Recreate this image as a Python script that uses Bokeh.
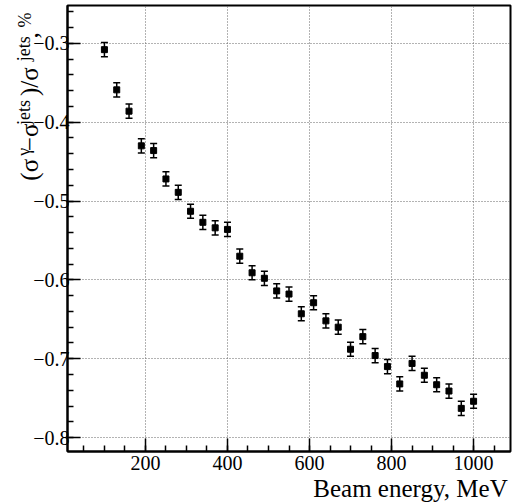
from bokeh.plotting import figure
from bokeh.models import (ColumnDataSource, Range1d, FixedTicker, Whisker, TeeHead,
                          LinearAxis)
from bokeh.embed import file_html
from bokeh.resources import INLINE

# ---------------- data ----------------
energy = [100, 130, 160, 190, 220, 250, 280, 310, 340, 370, 400, 430, 460, 490, 520,
          550, 580, 610, 640, 670, 700, 730, 760, 790, 820, 850, 880, 910, 940, 970, 1000]
ratio = [-0.308, -0.359, -0.386, -0.430, -0.436, -0.472, -0.489, -0.513, -0.527, -0.534,
         -0.536, -0.570, -0.591, -0.598, -0.614, -0.618, -0.643, -0.629, -0.652, -0.660,
         -0.688, -0.672, -0.696, -0.710, -0.732, -0.706, -0.721, -0.733, -0.741, -0.763,
         -0.754]
ratio_err = [0.009] * len(energy)

x_ticks = [200, 400, 600, 800, 1000]
x_tick_labels = ["200", "400", "600", "800", "1000"]
y_ticks = [-0.8, -0.7, -0.6, -0.5, -0.4, -0.3]
y_tick_labels = ["\u22120.8", "\u22120.7", "\u22120.6", "\u22120.5", "\u22120.4", "\u22120.3"]

x_title = "Beam energy, MeV"
# y title pieces (read bottom to top)
y_title_main = ["(\u03c3", "\u2212\u03c3", ")/\u03c3", ","]
y_title_sup = ["\u03b3", "jets", "jets", "%"]

# ---------------- layout ----------------
X_MIN, X_MAX = 10, 1090
Y_MIN, Y_MAX = -0.8177, -0.2520
FONT = "Liberation Serif"

p = figure(width=513, height=504, output_backend="svg", toolbar_location=None,
           x_range=Range1d(X_MIN, X_MAX), y_range=Range1d(Y_MIN, Y_MAX),
           min_border_left=67, min_border_right=3, min_border_top=5, min_border_bottom=51)
p.background_fill_color = "white"
p.border_fill_color = "white"
p.outline_line_color = "black"
p.outline_line_width = 2

# axes
p.xaxis.ticker = FixedTicker(ticks=x_ticks, minor_ticks=[50 * i for i in range(1, 22)])
p.yaxis.ticker = FixedTicker(ticks=y_ticks,
                             minor_ticks=[round(-0.8 + 0.02 * i, 2) for i in range(0, 28)])
p.xaxis.major_label_overrides = {t: s for t, s in zip(x_ticks, x_tick_labels)}
p.yaxis.major_label_overrides = {t: s for t, s in zip(y_ticks, y_tick_labels)}
for ax in (p.xaxis, p.yaxis):
    ax.axis_line_color = "black"
    ax.axis_line_width = 2
    ax.major_tick_in = 13
    ax.major_tick_out = 0
    ax.minor_tick_in = 6
    ax.minor_tick_out = 0
    ax.major_tick_line_color = "black"
    ax.minor_tick_line_color = "black"
    ax.major_tick_line_width = 1.5
    ax.minor_tick_line_width = 1.5
    ax.major_label_text_font = FONT
    ax.major_label_text_font_size = "20px"
    ax.major_label_text_color = "black"
p.xaxis.major_label_standoff = 4
p.yaxis.major_label_standoff = -2

# grid
for g in (p.xgrid, p.ygrid):
    g.grid_line_color = "#666666"
    g.grid_line_dash = "1 2"
    g.grid_line_width = 1
p.xgrid.ticker = p.xaxis.ticker
p.ygrid.ticker = p.yaxis.ticker

# data
src = ColumnDataSource(dict(
    x=energy, y=ratio,
    upper=[v + e for v, e in zip(ratio, ratio_err)],
    lower=[v - e for v, e in zip(ratio, ratio_err)],
))
w = Whisker(source=src, base="x", upper="upper", lower="lower", dimension="height",
            line_color="black", line_width=1.5,
            upper_head=TeeHead(size=7, line_width=1.5, line_color="black"),
            lower_head=TeeHead(size=7, line_width=1.5, line_color="black"))
p.add_layout(w)
p.scatter("x", "y", source=src, marker="square", size=6,
          fill_color="black", line_color="black")

# axis titles: extra axes without lines/ticks whose labels carry the titles
def ref_y(py):
    # vertical pixel position in the picture -> data value on the y scale
    return -0.3 - (py - 43) / 792.0

def ref_x(px):
    # horizontal pixel position in the picture -> data value on the x scale
    return X_MIN + (px - 67) * (X_MAX - X_MIN) / 443.0

def title_axis(centers, texts, size, standoff, orientation):
    a = LinearAxis(ticker=FixedTicker(ticks=centers, minor_ticks=[]))
    a.major_label_overrides = {c: t for c, t in zip(centers, texts)}
    a.axis_line_color = None
    a.major_tick_line_color = None
    a.minor_tick_line_color = None
    a.major_tick_in = 0
    a.major_tick_out = 0
    a.minor_tick_in = 0
    a.minor_tick_out = 0
    a.major_label_orientation = orientation
    a.major_label_standoff = standoff
    a.major_label_text_font = FONT
    a.major_label_text_font_size = size
    a.major_label_text_color = "black"
    return a

# x title (right end near the frame's right edge)
p.add_layout(title_axis([ref_x(410)], [x_title], "25px", 2, "horizontal"), "below")

# y title, main-size and superscript pieces
main_centers = [ref_y(v) for v in (170, 137.5, 81.5, 35)]
sup_centers = [ref_y(v) for v in (152, 112.5, 48.5, 19.5)]
p.add_layout(title_axis(main_centers, y_title_main, "25px", -13, "parallel"), "left")
p.add_layout(title_axis(sup_centers, y_title_sup, "18px", -21, "parallel"), "left")

open("out.html", "w").write(file_html(p, INLINE))
